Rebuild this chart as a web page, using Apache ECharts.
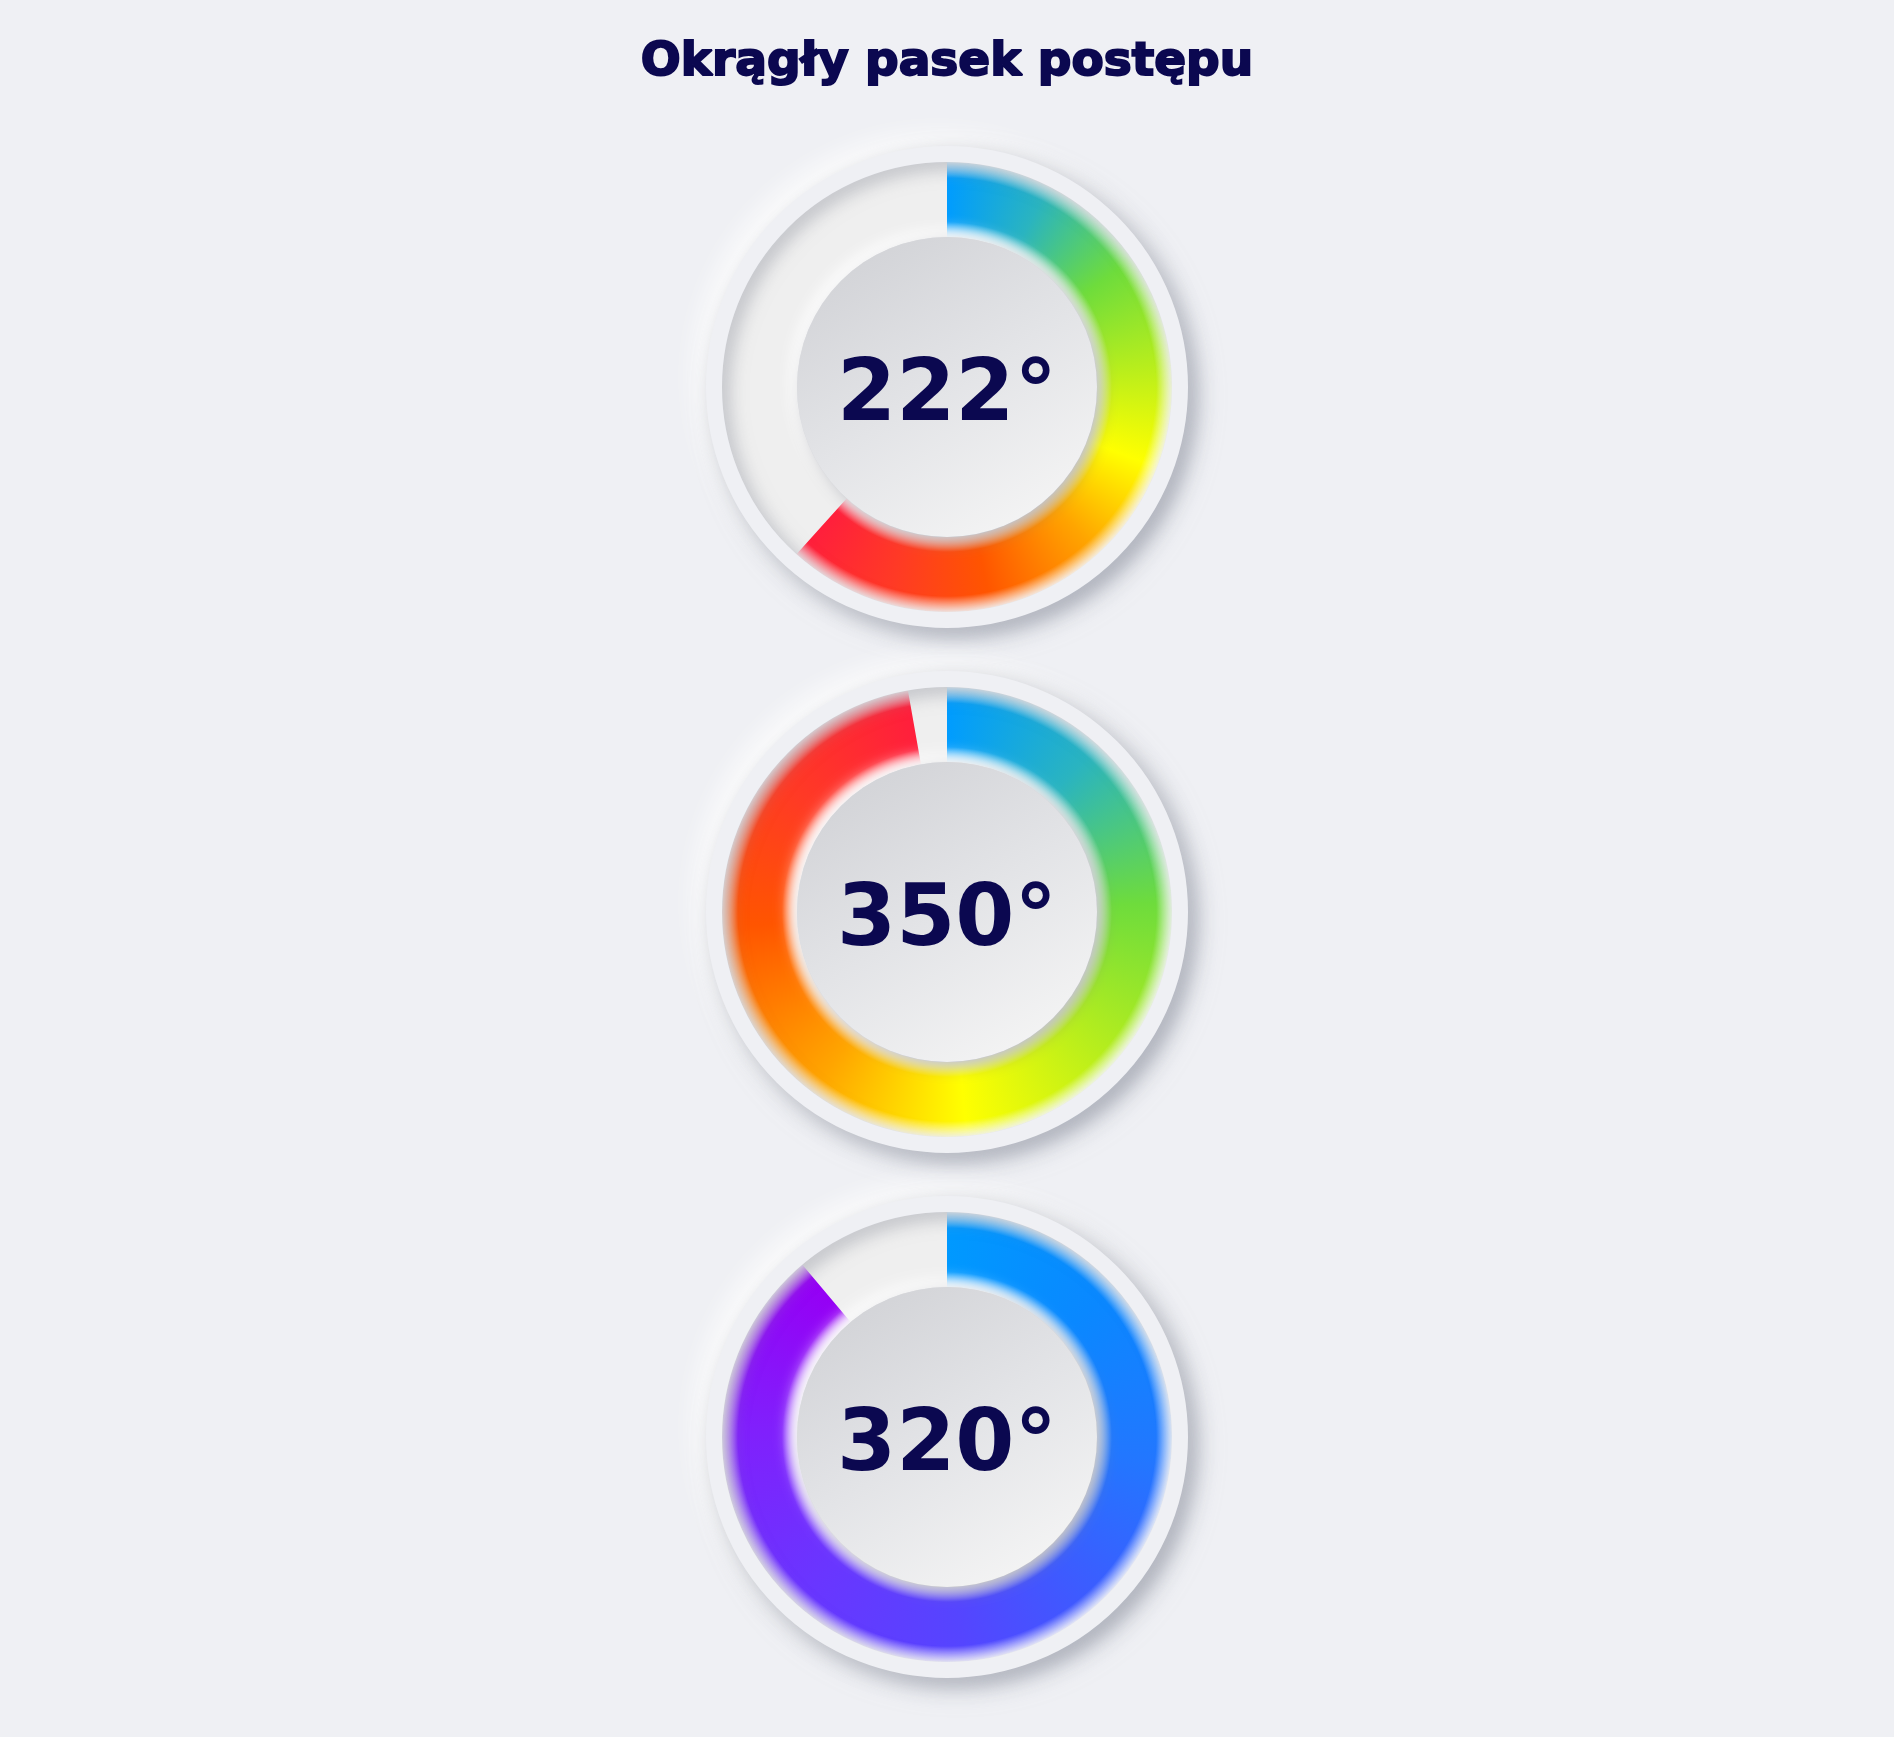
<!DOCTYPE html>
<html><head><meta charset="utf-8">
<script src="https://cdn.jsdelivr.net/npm/echarts@6/dist/echarts.min.js"></script>
<style>html,body{margin:0;padding:0;background:#eff0f4;}#chart{width:1894px;height:1737px;}</style>
</head><body><div id="chart"></div>
<script>
// ---- data ----
const titleText = 'Okrągły pasek postępu';
const gaugeNames = ['Pasek 1', 'Pasek 2', 'Pasek 3'];
const gaugeValues = [222, 350, 320];
const valueUnit = '°';
const axisMin = 0;
const axisMax = 360;

// ---- styles / layout ----
const bg = '#eff0f4';
const textColor = '#0b0850';
const centerX = 947;
const centerYs = [387, 912, 1437];
const plateR = 240, ringR = 225, ringW = 75, discR = 150;
const palettes = [
  [[0,'#009cff'],[0.12,'#2ab4c0'],[0.25,'#6edc3c'],[0.38,'#b8ee1c'],[0.5,'#ffff00'],[0.62,'#ffa500'],[0.76,'#ff5500'],[0.88,'#ff3a25'],[1,'#ff1f3c']],
  [[0,'#009cff'],[0.12,'#2ab4c0'],[0.25,'#6edc3c'],[0.38,'#b8ee1c'],[0.5,'#ffff00'],[0.62,'#ffa500'],[0.76,'#ff5500'],[0.88,'#ff3a25'],[1,'#ff1f3c']],
  [[0,'#0099ff'],[0.15,'#0a88ff'],[0.3,'#2277ff'],[0.45,'#4058ff'],[0.55,'#5545ff'],[0.7,'#6a35ff'],[0.85,'#8020fc'],[1,'#9500f5']]
];

function lerpColor(a, b, t) {
  const pa = [1,3,5].map(i => parseInt(a.substr(i,2),16));
  const pb = [1,3,5].map(i => parseInt(b.substr(i,2),16));
  return 'rgb(' + pa.map((v,k) => Math.round(v + (pb[k]-v)*t)).join(',') + ')';
}

function makeRingPattern(stops, value, cx, cy) {
  const R = 232, size = R * 2;
  const c = document.createElement('canvas');
  c.width = size; c.height = size;
  const ctx = c.getContext('2d');
  const span = (value - axisMin) / (axisMax - axisMin);
  if (ctx.createConicGradient) {
    const g = ctx.createConicGradient(-Math.PI / 2, R, R);
    stops.forEach(s => g.addColorStop(s[0] * span, s[1]));
    ctx.fillStyle = g;
    ctx.fillRect(0, 0, size, size);
  } else {
    const steps = 720;
    for (let k = 0; k < steps; k++) {
      const f = k / steps;
      let col = stops[stops.length - 1][1];
      const fr = Math.min(1, f / span);
      for (let j = 1; j < stops.length; j++) {
        if (fr <= stops[j][0]) {
          const t = (fr - stops[j-1][0]) / (stops[j][0] - stops[j-1][0]);
          col = lerpColor(stops[j-1][1], stops[j][1], t);
          break;
        }
      }
      const a0 = -Math.PI/2 + f * 2 * Math.PI, a1 = a0 + 2 * Math.PI / steps + 0.01;
      ctx.beginPath(); ctx.moveTo(R, R); ctx.arc(R, R, R, a0, a1); ctx.closePath();
      ctx.fillStyle = col; ctx.fill();
    }
  }
  const rg = ctx.createRadialGradient(R, R, 0, R, R, R);
  rg.addColorStop(0, 'rgba(255,255,255,0.9)');
  rg.addColorStop(150 / R, 'rgba(255,255,255,0.85)');
  rg.addColorStop(165 / R, 'rgba(255,255,255,0)');
  rg.addColorStop(209 / R, 'rgba(255,255,255,0)');
  rg.addColorStop(225 / R, 'rgba(255,255,255,0.9)');
  rg.addColorStop(1, 'rgba(255,255,255,0.9)');
  ctx.fillStyle = rg;
  ctx.fillRect(0, 0, size, size);
  return { image: c, repeat: 'no-repeat', x: cx - R, y: cy - R };
}

const series = [];
const graphics = [];
gaugeValues.forEach((v, i) => {
  const cy = centerYs[i];
  graphics.push({ type: 'circle', z: 0, silent: true, shape: { cx: centerX, cy: cy, r: plateR },
    style: { fill: bg, shadowColor: 'rgba(160,165,180,0.55)', shadowBlur: 26, shadowOffsetX: 10, shadowOffsetY: 10 } });
  graphics.push({ type: 'circle', z: 0, silent: true, shape: { cx: centerX, cy: cy, r: plateR },
    style: { fill: bg, shadowColor: 'rgba(255,255,255,1)', shadowBlur: 26, shadowOffsetX: -10, shadowOffsetY: -10 } });
  graphics.push({ type: 'circle', z: 3, silent: true, shape: { cx: centerX, cy: cy, r: ringR + 8 },
    style: { fill: null, stroke: bg, lineWidth: 16, shadowColor: 'rgba(140,143,155,0.55)', shadowBlur: 18, shadowOffsetX: 6, shadowOffsetY: 6 } });
  graphics.push({ type: 'circle', z: 3, silent: true, shape: { cx: centerX, cy: cy, r: discR },
    style: { fill: '#e6e7ea', shadowColor: 'rgba(255,255,255,0.95)', shadowBlur: 16, shadowOffsetX: -6, shadowOffsetY: -6 } });
  graphics.push({ type: 'circle', z: 3, silent: true, shape: { cx: centerX, cy: cy, r: discR },
    style: { fill: new echarts.graphic.LinearGradient(0.2, 0, 0.8, 1, [
        { offset: 0, color: '#d1d2d6' }, { offset: 0.5, color: '#e3e4e7' }, { offset: 1, color: '#f5f5f5' }]),
      shadowColor: 'rgba(130,132,142,0.5)', shadowBlur: 16, shadowOffsetX: 6, shadowOffsetY: 6 } });

  series.push({
    type: 'gauge', name: gaugeNames[i], z: 2, silent: true, animation: false,
    center: [centerX, cy], radius: ringR, startAngle: 90, endAngle: -270,
    min: axisMin, max: axisMax,
    axisLine: { show: true, roundCap: false, lineStyle: { width: ringW, color: [[1, '#efefef']] } },
    progress: { show: true, width: ringW, roundCap: false,
      itemStyle: { color: makeRingPattern(palettes[i], v, centerX, cy) } },
    pointer: { show: false }, anchor: { show: false },
    axisTick: { show: false }, splitLine: { show: false }, axisLabel: { show: false },
    title: { show: false }, detail: { show: false },
    emphasis: { disabled: true },
    data: [{ value: v, name: gaugeNames[i] }]
  });
  series.push({
    type: 'gauge', name: gaugeNames[i] + ' tekst', z: 5, silent: true, animation: false,
    center: [centerX, cy], radius: ringR, startAngle: 90, endAngle: -270,
    min: axisMin, max: axisMax,
    axisLine: { show: false }, progress: { show: false }, pointer: { show: false }, anchor: { show: false },
    axisTick: { show: false }, splitLine: { show: false }, axisLabel: { show: false },
    title: { show: false },
    detail: { show: true, valueAnimation: false, offsetCenter: [0, 11],
      formatter: '{value}' + valueUnit, color: textColor,
      fontSize: 85, fontWeight: 'bold', fontFamily: 'DejaVu Sans' },
    data: [{ value: v, name: gaugeNames[i] }]
  });
});

graphics.push({ type: 'text', z: 10, x: centerX, y: 63, silent: true,
  style: { text: titleText, fill: textColor, stroke: textColor, lineWidth: 2, fontSize: 47, fontWeight: 'bold',
    fontFamily: 'DejaVu Sans', textAlign: 'center', textVerticalAlign: 'middle' } });

const chart = echarts.init(document.getElementById('chart'), null, { renderer: 'canvas', width: 1894, height: 1737 });
chart.setOption({
  backgroundColor: bg,
  animation: false,
  graphic: { elements: graphics },
  series: series
});
</script>
</body></html>
